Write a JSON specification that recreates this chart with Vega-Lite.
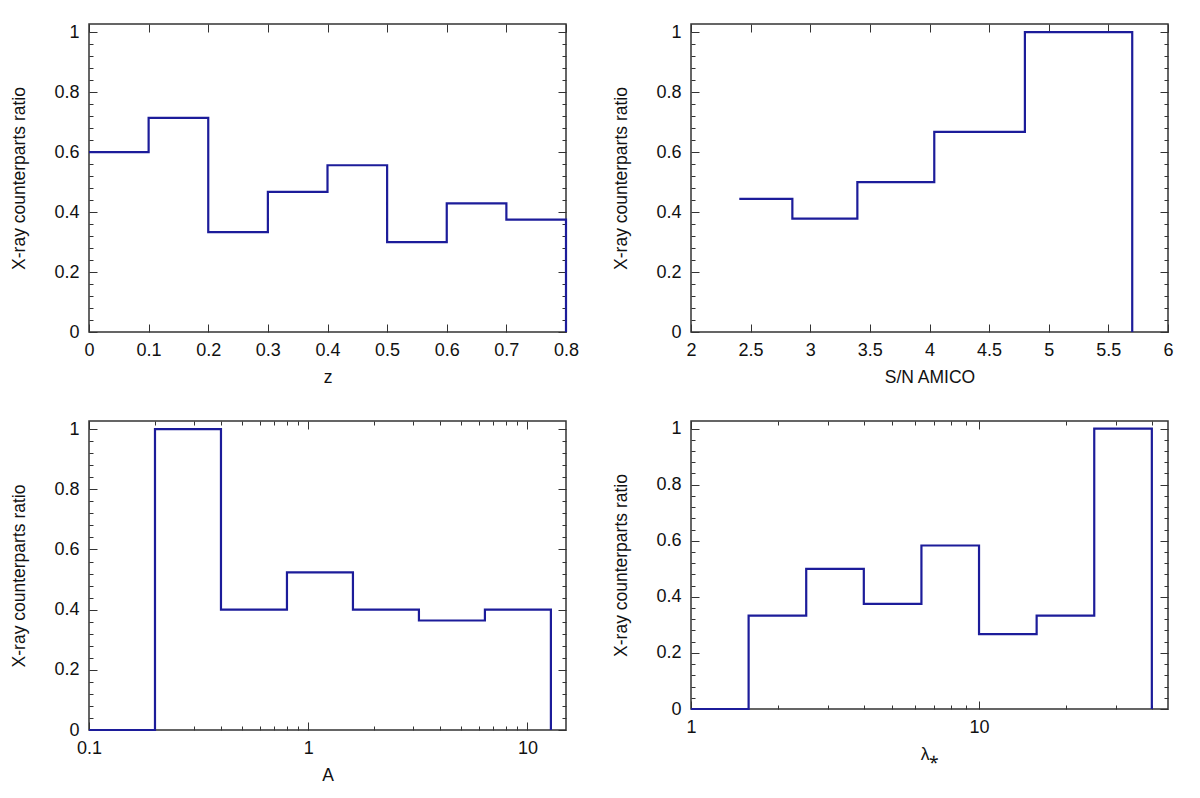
{
  "$schema": "https://vega.github.io/schema/vega-lite/v6.json",
  "description": "X-ray counterparts ratio as step histograms against z, S/N AMICO, A and lambda*",
  "background": "white",
  "padding": {"left": 10, "top": 22, "right": 5, "bottom": 5},
  "config": {
    "view": {"stroke": "#333333", "strokeWidth": 1.5},
    "font": "Liberation Sans",
    "axis": {
      "grid": false,
      "domain": false,
      "tickColor": "#333333",
      "tickWidth": 1,
      "labelFont": "Liberation Sans",
      "titleFont": "Liberation Sans",
      "labelFontSize": 18,
      "titleFontSize": 17.5,
      "titleFontWeight": "normal",
      "labelColor": "#111111",
      "titleColor": "#111111",
      "labelFlush": false,
      "labelOverlap": false,
      "format": "~g"
    }
  },
  "datasets": {
    "z": [
      {"x": 0, "r": 0.6},
      {"x": 0.1, "r": 0.714},
      {"x": 0.2, "r": 0.333},
      {"x": 0.3, "r": 0.467},
      {"x": 0.4, "r": 0.556},
      {"x": 0.5, "r": 0.3},
      {"x": 0.6, "r": 0.429},
      {"x": 0.7, "r": 0.375},
      {"x": 0.8, "r": 0}
    ],
    "sn": [
      {"x": 2.405, "r": 0.444},
      {"x": 2.85, "r": 0.378},
      {"x": 3.395, "r": 0.5},
      {"x": 4.04, "r": 0.667},
      {"x": 4.8, "r": 1},
      {"x": 5.7, "r": 0}
    ],
    "amp": [
      {"x": 0.1, "r": 0},
      {"x": 0.2, "r": 1},
      {"x": 0.4, "r": 0.4},
      {"x": 0.8, "r": 0.524},
      {"x": 1.6, "r": 0.4},
      {"x": 3.2, "r": 0.364},
      {"x": 6.4, "r": 0.4},
      {"x": 12.8, "r": 0}
    ],
    "lam": [
      {"x": 1, "r": 0},
      {"x": 1.585, "r": 0.333},
      {"x": 2.512, "r": 0.5},
      {"x": 3.981, "r": 0.375},
      {"x": 6.31, "r": 0.583},
      {"x": 10, "r": 0.267},
      {"x": 15.85, "r": 0.333},
      {"x": 25.12, "r": 1},
      {"x": 39.81, "r": 0}
    ]
  },
  "columns": 2,
  "spacing": {"column": 32, "row": 31},
  "concat": [
    {
      "width": 477,
      "height": 308,
      "data": {"name": "z"},
      "layer": [
        {
          "mark": {"type": "line", "interpolate": "step-after", "color": "#1c1c9a", "strokeWidth": 2.2},
          "encoding": {
            "x": {"field": "x", "type": "quantitative", "scale": {"domain": [0, 0.8], "nice": false, "zero": false},
                  "axis": {"orient": "bottom", "title": "z", "values": [0, 0.1, 0.2, 0.3, 0.4, 0.5, 0.6, 0.7, 0.8], "ticks": false, "labelPadding": 9, "titlePadding": 9}},
            "y": {"field": "r", "type": "quantitative", "scale": {"domain": [0, 1.027], "nice": false},
                  "axis": {"orient": "left", "title": "X-ray counterparts ratio", "values": [0, 0.2, 0.4, 0.6, 0.8, 1], "ticks": false, "labelPadding": 10, "titlePadding": 25}}
          }
        },
        {
          "mark": {"type": "point", "opacity": 0},
          "encoding": {
            "x": {"field": "x", "type": "quantitative", "axis": {"orient": "bottom", "title": null, "labels": false, "tickSize": -8, "values": [0, 0.1, 0.2, 0.3, 0.4, 0.5, 0.6, 0.7, 0.8]}},
            "y": {"field": "r", "type": "quantitative", "axis": {"orient": "left", "title": null, "labels": false, "tickSize": -8, "values": [0, 0.2, 0.4, 0.6, 0.8, 1]}}
          }
        },
        {
          "mark": {"type": "point", "opacity": 0},
          "encoding": {
            "x": {"field": "x", "type": "quantitative", "axis": {"orient": "top", "title": null, "labels": false, "tickSize": -8, "values": [0, 0.1, 0.2, 0.3, 0.4, 0.5, 0.6, 0.7, 0.8]}},
            "y": {"field": "r", "type": "quantitative", "axis": {"orient": "right", "title": null, "labels": false, "tickSize": -8, "values": [0, 0.2, 0.4, 0.6, 0.8, 1]}}
          }
        },
        {
          "mark": {"type": "point", "opacity": 0},
          "encoding": {
            "x": {"field": "x", "type": "quantitative", "axis": null},
            "y": {"field": "r", "type": "quantitative", "axis": {"orient": "left", "title": null, "labels": false, "tickSize": -4, "values": [0.04, 0.08, 0.12, 0.16, 0.24, 0.28, 0.32, 0.36, 0.44, 0.48, 0.52, 0.56, 0.64, 0.68, 0.72, 0.76, 0.84, 0.88, 0.92, 0.96]}}
          }
        },
        {
          "mark": {"type": "point", "opacity": 0},
          "encoding": {
            "x": {"field": "x", "type": "quantitative", "axis": null},
            "y": {"field": "r", "type": "quantitative", "axis": {"orient": "right", "title": null, "labels": false, "tickSize": -4, "values": [0.04, 0.08, 0.12, 0.16, 0.24, 0.28, 0.32, 0.36, 0.44, 0.48, 0.52, 0.56, 0.64, 0.68, 0.72, 0.76, 0.84, 0.88, 0.92, 0.96]}}
          }
        }
      ],
      "resolve": {"axis": {"x": "independent", "y": "independent"}}
    },
    {
      "width": 477,
      "height": 308,
      "data": {"name": "sn"},
      "layer": [
        {
          "mark": {"type": "line", "interpolate": "step-after", "color": "#1c1c9a", "strokeWidth": 2.2},
          "encoding": {
            "x": {"field": "x", "type": "quantitative", "scale": {"domain": [2, 6], "nice": false, "zero": false},
                  "axis": {"orient": "bottom", "title": "S/N AMICO", "values": [2, 2.5, 3, 3.5, 4, 4.5, 5, 5.5, 6], "ticks": false, "labelPadding": 9, "titlePadding": 9}},
            "y": {"field": "r", "type": "quantitative", "scale": {"domain": [0, 1.027], "nice": false},
                  "axis": {"orient": "left", "title": "X-ray counterparts ratio", "values": [0, 0.2, 0.4, 0.6, 0.8, 1], "ticks": false, "labelPadding": 10, "titlePadding": 25}}
          }
        },
        {
          "mark": {"type": "point", "opacity": 0},
          "encoding": {
            "x": {"field": "x", "type": "quantitative", "axis": {"orient": "bottom", "title": null, "labels": false, "tickSize": -8, "values": [2, 2.5, 3, 3.5, 4, 4.5, 5, 5.5, 6]}},
            "y": {"field": "r", "type": "quantitative", "axis": {"orient": "left", "title": null, "labels": false, "tickSize": -8, "values": [0, 0.2, 0.4, 0.6, 0.8, 1]}}
          }
        },
        {
          "mark": {"type": "point", "opacity": 0},
          "encoding": {
            "x": {"field": "x", "type": "quantitative", "axis": {"orient": "top", "title": null, "labels": false, "tickSize": -8, "values": [2, 2.5, 3, 3.5, 4, 4.5, 5, 5.5, 6]}},
            "y": {"field": "r", "type": "quantitative", "axis": {"orient": "right", "title": null, "labels": false, "tickSize": -8, "values": [0, 0.2, 0.4, 0.6, 0.8, 1]}}
          }
        },
        {
          "mark": {"type": "point", "opacity": 0},
          "encoding": {
            "x": {"field": "x", "type": "quantitative", "axis": null},
            "y": {"field": "r", "type": "quantitative", "axis": {"orient": "left", "title": null, "labels": false, "tickSize": -4, "values": [0.04, 0.08, 0.12, 0.16, 0.24, 0.28, 0.32, 0.36, 0.44, 0.48, 0.52, 0.56, 0.64, 0.68, 0.72, 0.76, 0.84, 0.88, 0.92, 0.96]}}
          }
        },
        {
          "mark": {"type": "point", "opacity": 0},
          "encoding": {
            "x": {"field": "x", "type": "quantitative", "axis": null},
            "y": {"field": "r", "type": "quantitative", "axis": {"orient": "right", "title": null, "labels": false, "tickSize": -4, "values": [0.04, 0.08, 0.12, 0.16, 0.24, 0.28, 0.32, 0.36, 0.44, 0.48, 0.52, 0.56, 0.64, 0.68, 0.72, 0.76, 0.84, 0.88, 0.92, 0.96]}}
          }
        }
      ],
      "resolve": {"axis": {"x": "independent", "y": "independent"}}
    },
    {
      "width": 477,
      "height": 309,
      "data": {"name": "amp"},
      "layer": [
        {
          "mark": {"type": "line", "interpolate": "step-after", "color": "#1c1c9a", "strokeWidth": 2.2},
          "encoding": {
            "x": {"field": "x", "type": "quantitative", "scale": {"type": "log", "domain": [0.1, 15], "nice": false},
                  "axis": {"orient": "bottom", "title": "A", "values": [0.1, 1, 10], "ticks": false, "labelPadding": 9, "titlePadding": 9}},
            "y": {"field": "r", "type": "quantitative", "scale": {"domain": [0, 1.027], "nice": false},
                  "axis": {"orient": "left", "title": "X-ray counterparts ratio", "values": [0, 0.2, 0.4, 0.6, 0.8, 1], "ticks": false, "labelPadding": 10, "titlePadding": 25}}
          }
        },
        {
          "mark": {"type": "point", "opacity": 0},
          "encoding": {
            "x": {"field": "x", "type": "quantitative", "axis": {"orient": "bottom", "title": null, "labels": false, "tickSize": -8, "values": [0.1, 1, 10]}},
            "y": {"field": "r", "type": "quantitative", "axis": {"orient": "left", "title": null, "labels": false, "tickSize": -8, "values": [0, 0.2, 0.4, 0.6, 0.8, 1]}}
          }
        },
        {
          "mark": {"type": "point", "opacity": 0},
          "encoding": {
            "x": {"field": "x", "type": "quantitative", "axis": {"orient": "top", "title": null, "labels": false, "tickSize": -8, "values": [0.1, 1, 10]}},
            "y": {"field": "r", "type": "quantitative", "axis": {"orient": "right", "title": null, "labels": false, "tickSize": -8, "values": [0, 0.2, 0.4, 0.6, 0.8, 1]}}
          }
        },
        {
          "mark": {"type": "point", "opacity": 0},
          "encoding": {
            "x": {"field": "x", "type": "quantitative", "axis": {"orient": "bottom", "title": null, "labels": false, "tickSize": -4, "values": [0.2, 0.3, 0.4, 0.5, 0.6, 0.7, 0.8, 0.9, 2, 3, 4, 5, 6, 7, 8, 9]}},
            "y": {"field": "r", "type": "quantitative", "axis": {"orient": "left", "title": null, "labels": false, "tickSize": -4, "values": [0.04, 0.08, 0.12, 0.16, 0.24, 0.28, 0.32, 0.36, 0.44, 0.48, 0.52, 0.56, 0.64, 0.68, 0.72, 0.76, 0.84, 0.88, 0.92, 0.96]}}
          }
        },
        {
          "mark": {"type": "point", "opacity": 0},
          "encoding": {
            "x": {"field": "x", "type": "quantitative", "axis": {"orient": "top", "title": null, "labels": false, "tickSize": -4, "values": [0.2, 0.3, 0.4, 0.5, 0.6, 0.7, 0.8, 0.9, 2, 3, 4, 5, 6, 7, 8, 9]}},
            "y": {"field": "r", "type": "quantitative", "axis": {"orient": "right", "title": null, "labels": false, "tickSize": -4, "values": [0.04, 0.08, 0.12, 0.16, 0.24, 0.28, 0.32, 0.36, 0.44, 0.48, 0.52, 0.56, 0.64, 0.68, 0.72, 0.76, 0.84, 0.88, 0.92, 0.96]}}
          }
        }
      ],
      "resolve": {"axis": {"x": "independent", "y": "independent"}}
    },
    {
      "width": 477,
      "height": 288,
      "data": {"name": "lam"},
      "layer": [
        {
          "mark": {"type": "line", "interpolate": "step-after", "color": "#1c1c9a", "strokeWidth": 2.2},
          "encoding": {
            "x": {"field": "x", "type": "quantitative", "scale": {"type": "log", "domain": [1, 45.3], "nice": false},
                  "axis": {"orient": "bottom", "title": "λ⁎", "values": [1, 10], "ticks": false, "labelPadding": 9, "titlePadding": 9}},
            "y": {"field": "r", "type": "quantitative", "scale": {"domain": [0, 1.027], "nice": false},
                  "axis": {"orient": "left", "title": "X-ray counterparts ratio", "values": [0, 0.2, 0.4, 0.6, 0.8, 1], "ticks": false, "labelPadding": 10, "titlePadding": 25}}
          }
        },
        {
          "mark": {"type": "point", "opacity": 0},
          "encoding": {
            "x": {"field": "x", "type": "quantitative", "axis": {"orient": "bottom", "title": null, "labels": false, "tickSize": -8, "values": [1, 10]}},
            "y": {"field": "r", "type": "quantitative", "axis": {"orient": "left", "title": null, "labels": false, "tickSize": -8, "values": [0, 0.2, 0.4, 0.6, 0.8, 1]}}
          }
        },
        {
          "mark": {"type": "point", "opacity": 0},
          "encoding": {
            "x": {"field": "x", "type": "quantitative", "axis": {"orient": "top", "title": null, "labels": false, "tickSize": -8, "values": [1, 10]}},
            "y": {"field": "r", "type": "quantitative", "axis": {"orient": "right", "title": null, "labels": false, "tickSize": -8, "values": [0, 0.2, 0.4, 0.6, 0.8, 1]}}
          }
        },
        {
          "mark": {"type": "point", "opacity": 0},
          "encoding": {
            "x": {"field": "x", "type": "quantitative", "axis": {"orient": "bottom", "title": null, "labels": false, "tickSize": -4, "values": [2, 3, 4, 5, 6, 7, 8, 9, 20, 30, 40]}},
            "y": {"field": "r", "type": "quantitative", "axis": {"orient": "left", "title": null, "labels": false, "tickSize": -4, "values": [0.04, 0.08, 0.12, 0.16, 0.24, 0.28, 0.32, 0.36, 0.44, 0.48, 0.52, 0.56, 0.64, 0.68, 0.72, 0.76, 0.84, 0.88, 0.92, 0.96]}}
          }
        },
        {
          "mark": {"type": "point", "opacity": 0},
          "encoding": {
            "x": {"field": "x", "type": "quantitative", "axis": {"orient": "top", "title": null, "labels": false, "tickSize": -4, "values": [2, 3, 4, 5, 6, 7, 8, 9, 20, 30, 40]}},
            "y": {"field": "r", "type": "quantitative", "axis": {"orient": "right", "title": null, "labels": false, "tickSize": -4, "values": [0.04, 0.08, 0.12, 0.16, 0.24, 0.28, 0.32, 0.36, 0.44, 0.48, 0.52, 0.56, 0.64, 0.68, 0.72, 0.76, 0.84, 0.88, 0.92, 0.96]}}
          }
        }
      ],
      "resolve": {"axis": {"x": "independent", "y": "independent"}}
    }
  ]
}
